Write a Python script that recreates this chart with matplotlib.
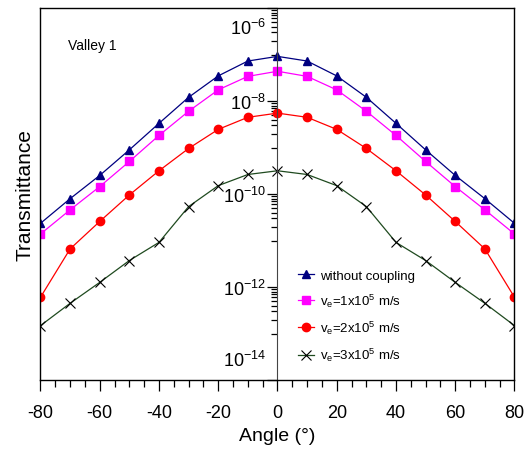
import numpy as np
import matplotlib
matplotlib.use("Agg")
import matplotlib.pyplot as plt
from matplotlib.ticker import LogLocator, FuncFormatter, MultipleLocator
from matplotlib.transforms import ScaledTranslation

plt.rcParams['font.family'] = ['Liberation Sans', 'DejaVu Sans']
plt.rcParams['mathtext.default'] = 'regular'
plt.rcParams['axes.unicode_minus'] = False

# -----------------------------
# data (log10 of transmittance)
# -----------------------------
angle = [-80, -70, -60, -50, -40, -30, -20, -10, 0, 10, 20, 30, 40, 50, 60, 70, 80]

log_sem_acopl = [-10.63, -10.10, -9.60, -9.05, -8.48, -7.92, -7.46, -7.14, -7.04,
                 -7.14, -7.46, -7.92, -8.48, -9.05, -9.60, -10.10, -10.63]
log_ve1 = [-10.86, -10.34, -9.84, -9.30, -8.74, -8.22, -7.76, -7.47, -7.36,
           -7.47, -7.76, -8.22, -8.74, -9.30, -9.84, -10.34, -10.86]
log_ve2 = [-12.22, -11.18, -10.59, -10.02, -9.50, -9.02, -8.61, -8.35, -8.26,
           -8.35, -8.61, -9.02, -9.50, -10.02, -10.59, -11.18, -12.22]
log_ve3 = [-12.83, -12.35, -11.90, -11.43, -11.04, -10.27, -9.82, -9.58, -9.50,
           -9.58, -9.82, -10.27, -11.04, -11.43, -11.90, -12.35, -12.83]

rotulos = ['without coupling',
           'v$_e$=1x10$^5$ m/s',
           'v$_e$=2x10$^5$ m/s',
           'v$_e$=3x10$^5$ m/s']

# -----------------------------
# figure
# -----------------------------
fig = plt.figure(figsize=(5.28, 4.60), dpi=100)
ax = fig.add_axes([0.0767, 0.1717, 0.8977, 0.8087])

x = np.array(angle)
ax.plot(x, 10.0 ** np.array(log_sem_acopl), color='#000080', lw=0.9,
        marker='^', ms=6, mec='#000080', mfc='#000080', label=rotulos[0])
ax.plot(x, 10.0 ** np.array(log_ve1), color='#FF00FF', lw=0.9,
        marker='s', ms=5.5, mec='#FF00FF', mfc='#FF00FF', label=rotulos[1])
ax.plot(x, 10.0 ** np.array(log_ve2), color='#FF0000', lw=0.9,
        marker='o', ms=6, mec='#FF0000', mfc='#FF0000', label=rotulos[2])
ax.plot(x, 10.0 ** np.array(log_ve3), color='#1F4A1F', lw=0.9,
        marker='x', ms=6.5, mec='black', mew=0.8, label=rotulos[3])

ax.set_yscale('log')
ax.set_xlim(-80, 80)
ax.set_ylim(1e-14, 1e-6)

# y axis sits at angle 0, frame stays around
ax.spines['left'].set_position(('data', 0))
ax.spines['left'].set_color('#444444')
for s in ['top', 'right', 'bottom']:
    ax.spines[s].set_linewidth(1.0)
ax.plot([0, 0], [0, 1], transform=ax.transAxes, color='black', lw=1.0, clip_on=False)

ax.yaxis.set_major_locator(LogLocator(base=100, numticks=10))
ax.yaxis.set_minor_locator(LogLocator(base=100, subs=np.arange(10, 100, 10), numticks=10))
ax.yaxis.set_major_formatter(FuncFormatter(lambda v, p: '$10^{%d}$' % int(round(np.log10(v)))))
ax.yaxis.set_minor_formatter(FuncFormatter(lambda v, p: ''))
ax.tick_params(axis='y', which='major', direction='out', length=7, width=0.9,
               labelsize=13, pad=1.5)
ax.tick_params(axis='y', which='minor', direction='out', length=4.5, width=0.9)

ax.xaxis.set_major_locator(MultipleLocator(20))
ax.xaxis.set_minor_locator(MultipleLocator(5))
ax.tick_params(axis='x', which='major', direction='out', length=8, width=0.9,
               labelsize=13, pad=9)
ax.tick_params(axis='x', which='minor', direction='out', length=5, width=0.9)

# end labels pulled inside the frame
fig.canvas.draw()
for lab in ax.get_yticklabels():
    txt = lab.get_text()
    if txt == '$10^{-6}$':
        lab.set_va('top')
        lab.set_transform(lab.get_transform() + ScaledTranslation(0, -7 / 72, fig.dpi_scale_trans))
    elif txt == '$10^{-14}$':
        lab.set_va('bottom')
        lab.set_transform(lab.get_transform() + ScaledTranslation(0, 7 / 72, fig.dpi_scale_trans))

ax.set_xlabel('Angle (°)', fontsize=14)
ax.xaxis.set_label_coords(0.5, -0.125)
ax.set_ylabel('Transmittance', fontsize=15)
ax.yaxis.set_label_coords(-0.012, 0.5)

ax.text(0.058, 0.9, 'Valley 1', transform=ax.transAxes, fontsize=10, va='center')

ax.legend(loc='upper left', bbox_to_anchor=(0.543, 0.297), frameon=False,
          fontsize=9.5, handlelength=1.2, handletextpad=0.45, labelspacing=0.75,
          numpoints=1, borderaxespad=0, borderpad=0)

fig.savefig('out.png', dpi=100)
